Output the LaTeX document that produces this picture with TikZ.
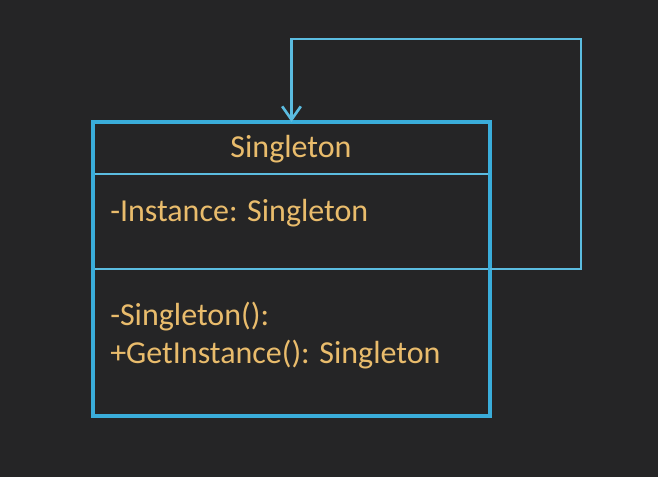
\documentclass[tikz,border=0pt]{standalone}
\usepackage{fontspec}
\setmainfont{Carlito}
\usetikzlibrary{%
  calc,arrows.meta,positioning}
\definecolor{bgdark}{HTML}{252526}
\definecolor{umlblue}{HTML}{3AADDA}
\definecolor{umlline}{HTML}{5BBCE0}
\definecolor{umltext}{HTML}{E9BC6C}
\tikzset {>={Straight Barb[length=10pt,width=14pt]}}
\tikzset{
  part/.style={draw=umlline, line width=1.8pt, minimum width=297.75pt,
    inner sep=0pt, outer sep=0pt},
  umltxt/.style={text=umltext, inner sep=0pt,
    font=\fontsize{24}{28.5}\selectfont},
  link/.style={draw=umlline, line width=2pt}
}

\begin{document}
\begin{tikzpicture}[x=0.75pt,y=-0.75pt]
\fill[bgdark] (0,0) rectangle (658,477);
\node[part, minimum height=39pt]    (title)   at (291.5,148)   {};
\node[part, minimum height=71.25pt] (attrs)   at (291.5,221.5) {};
\node[part, minimum height=110.25pt](methods) at (291.5,342.5) {};
\draw[umlblue, line width=3pt] (title.north west) rectangle (methods.south east);
\node[umltxt, anchor=base] (name) at (291,158) {Singleton};
\node[umltxt, anchor=base west] (field) at (110,222) {-Instance: Singleton};
\node[umltxt, anchor=base west] (ctor) at (110,326) {-Singleton():};
\node[umltxt, anchor=base west] (getter) at (110,364) {+GetInstance(): Singleton};
\coordinate (loop) at (581,39);
\draw[link,->] (attrs.south east) -| (loop) -| (title.north);
\end{tikzpicture}
\end{document}
